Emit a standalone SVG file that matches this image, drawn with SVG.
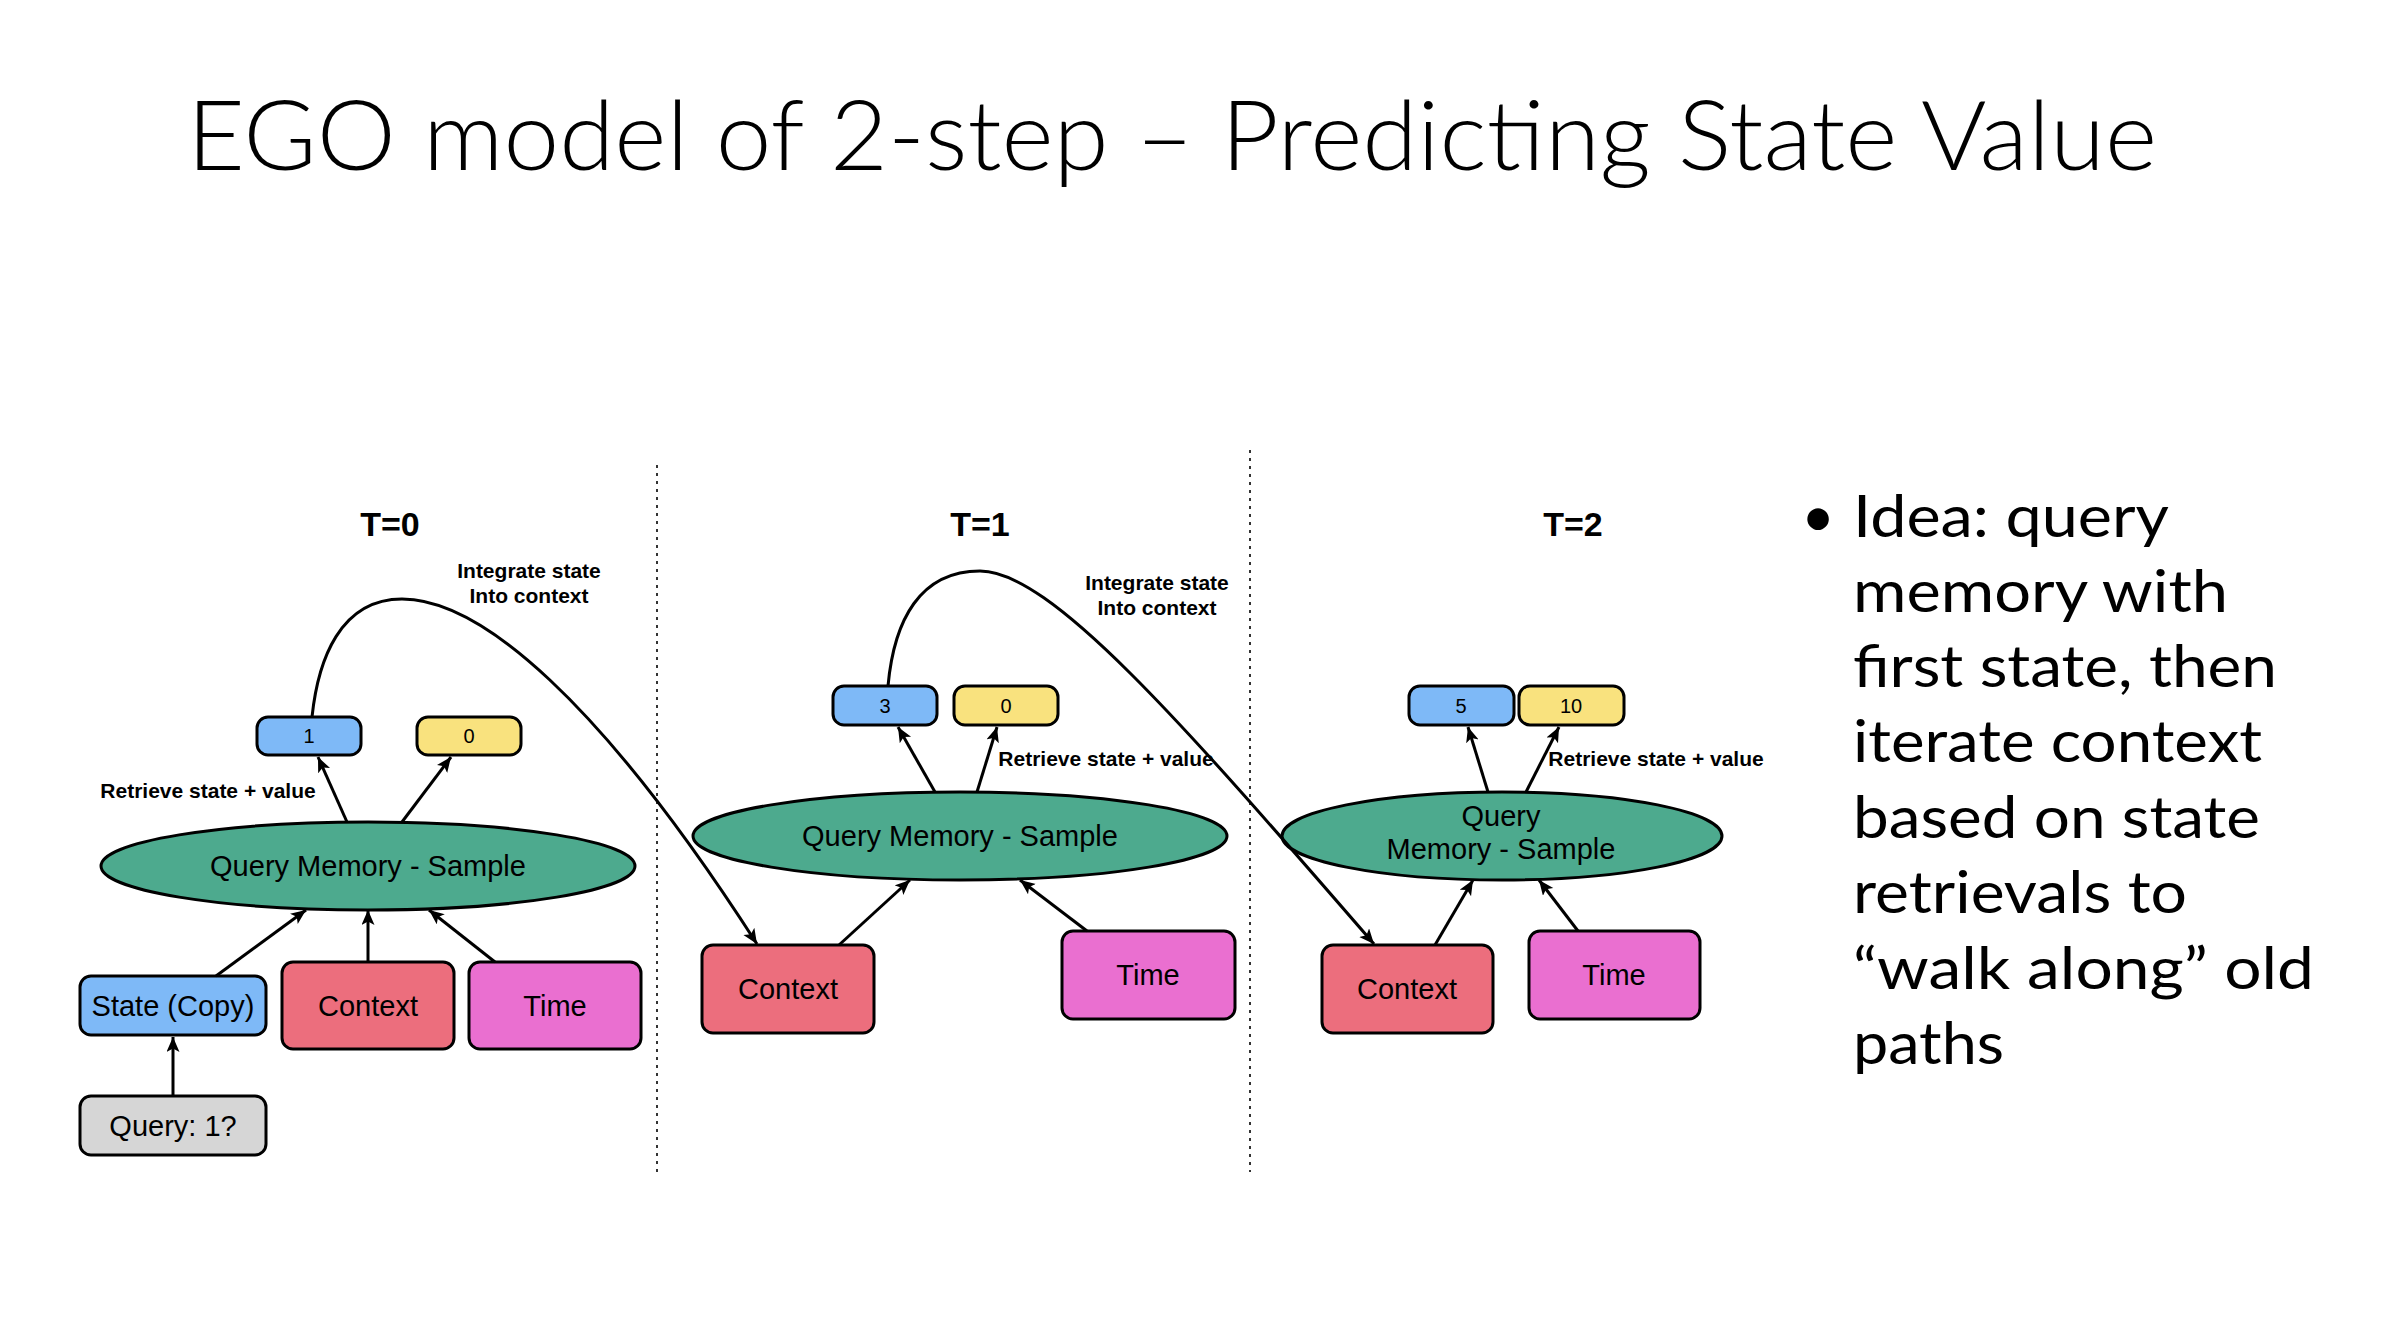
<svg xmlns="http://www.w3.org/2000/svg" width="2392" height="1341" viewBox="0 0 2392 1341">
<style>
.box{stroke:#000;stroke-width:3}
.blue{fill:#7EB9F7}.yellow{fill:#F9E27E}.green{fill:#4DAA8E}.red{fill:#EC6E7D}.pink{fill:#EA6FD0}.grey{fill:#D6D6D6}
.lbl{font-family:"Liberation Sans",Arial,sans-serif;font-size:29px;fill:#000;text-anchor:middle}
.num{font-family:"Liberation Sans",Arial,sans-serif;font-size:20px;fill:#000;text-anchor:middle}
.note{font-family:"Liberation Sans",Arial,sans-serif;font-size:21px;font-weight:bold;fill:#000;text-anchor:middle}
.step{font-family:"Liberation Sans",Arial,sans-serif;font-size:34px;font-weight:bold;fill:#000;text-anchor:middle}
.title{font-family:Lato,"Open Sans",sans-serif;font-weight:300;font-size:96px;fill:#000}
.bul{font-family:Lato,"Open Sans",sans-serif;font-size:58px;fill:#000}
.edge{fill:none;stroke:#000;stroke-width:3;marker-end:url(#arr)}
.div{stroke:#333;stroke-width:2;stroke-dasharray:3 5}
</style>
<defs>
<marker id="arr" markerUnits="userSpaceOnUse" markerWidth="18" markerHeight="14" refX="15" refY="6.5" orient="auto">
<path d="M0,0 L15,6.5 L0,13 L3.5,6.5 Z" fill="#000"/>
</marker>
</defs>
<rect width="2392" height="1341" fill="#fff"/>
<text class="title" x="187" y="170" textLength="1970" lengthAdjust="spacingAndGlyphs">EGO model of 2-step – Predicting State Value</text>

<line class="div" x1="657" y1="465" x2="657" y2="1176"/>
<line class="div" x1="1250" y1="450" x2="1250" y2="1172"/>

<text class="step" x="390" y="536">T=0</text>
<text class="step" x="980" y="536">T=1</text>
<text class="step" x="1573" y="536">T=2</text>

<g id="t0-state-out"><rect class="box blue" x="257" y="717" width="104" height="38" rx="11"/><text class="num" x="309" y="743">1</text></g>
<g id="t0-value-out"><rect class="box yellow" x="417" y="717" width="104" height="38" rx="11"/><text class="num" x="469" y="743">0</text></g>
<g id="t0-memory"><ellipse class="box green" cx="368" cy="866" rx="267" ry="44"/><text class="lbl" x="368" y="876">Query Memory - Sample</text></g>
<g id="t0-state"><rect class="box blue" x="80" y="976" width="186" height="59" rx="11"/><text class="lbl" x="173" y="1016">State (Copy)</text></g>
<g id="t0-context"><rect class="box red" x="282" y="962" width="172" height="87" rx="11"/><text class="lbl" x="368" y="1016">Context</text></g>
<g id="t0-time"><rect class="box pink" x="469" y="962" width="172" height="87" rx="11"/><text class="lbl" x="555" y="1016">Time</text></g>
<g id="t0-query"><rect class="box grey" x="80" y="1096" width="186" height="59" rx="11"/><text class="lbl" x="173" y="1136">Query: 1?</text></g>

<g id="t1-state-out"><rect class="box blue" x="833" y="686" width="104" height="39" rx="11"/><text class="num" x="885" y="713">3</text></g>
<g id="t1-value-out"><rect class="box yellow" x="954" y="686" width="104" height="39" rx="11"/><text class="num" x="1006" y="713">0</text></g>
<g id="t1-memory"><ellipse class="box green" cx="960" cy="836" rx="267" ry="44"/><text class="lbl" x="960" y="846">Query Memory - Sample</text></g>
<g id="t1-context"><rect class="box red" x="702" y="945" width="172" height="88" rx="11"/><text class="lbl" x="788" y="999">Context</text></g>
<g id="t1-time"><rect class="box pink" x="1062" y="931" width="173" height="88" rx="11"/><text class="lbl" x="1148" y="985">Time</text></g>

<g id="t2-state-out"><rect class="box blue" x="1409" y="686" width="105" height="39" rx="11"/><text class="num" x="1461" y="713">5</text></g>
<g id="t2-value-out"><rect class="box yellow" x="1519" y="686" width="105" height="39" rx="11"/><text class="num" x="1571" y="713">10</text></g>
<g id="t2-memory"><ellipse class="box green" cx="1502" cy="836" rx="220" ry="44"/><text class="lbl" x="1501" y="826">Query</text><text class="lbl" x="1501" y="859">Memory - Sample</text></g>
<g id="t2-context"><rect class="box red" x="1322" y="945" width="171" height="88" rx="11"/><text class="lbl" x="1407" y="999">Context</text></g>
<g id="t2-time"><rect class="box pink" x="1529" y="931" width="171" height="88" rx="11"/><text class="lbl" x="1614" y="985">Time</text></g>

<g id="connectors">
<line class="edge" x1="347" y1="822" x2="318" y2="757"/>
<line class="edge" x1="402" y1="822" x2="451" y2="757"/>
<line class="edge" x1="216" y1="976" x2="306" y2="910"/>
<line class="edge" x1="368" y1="962" x2="368" y2="910"/>
<line class="edge" x1="495" y1="962" x2="429" y2="910"/>
<line class="edge" x1="173" y1="1096" x2="173" y2="1037"/>
<path class="edge" d="M312,717 C318,660 340,599 402,599 C480,599 600,700 757,944"/>
<line class="edge" x1="935" y1="792" x2="898" y2="727"/>
<line class="edge" x1="977" y1="792" x2="997" y2="727"/>
<line class="edge" x1="839" y1="945" x2="910" y2="880"/>
<line class="edge" x1="1087" y1="931" x2="1020" y2="880"/>
<path class="edge" d="M888,686 C894,620 920,571 980,571 C1050,571 1180,720 1374,944"/>
<line class="edge" x1="1488" y1="792" x2="1468" y2="727"/>
<line class="edge" x1="1526" y1="792" x2="1559" y2="727"/>
<line class="edge" x1="1435" y1="945" x2="1473" y2="880"/>
<line class="edge" x1="1578" y1="931" x2="1539" y2="880"/>
</g>

<text class="note" x="529" y="578">Integrate state</text>
<text class="note" x="529" y="603">Into context</text>
<text class="note" x="1157" y="590">Integrate state</text>
<text class="note" x="1157" y="615">Into context</text>
<text class="note" x="208" y="798">Retrieve state + value</text>
<text class="note" x="1106" y="766">Retrieve state + value</text>
<text class="note" x="1656" y="766">Retrieve state + value</text>

<g id="bullet">
<text class="bul" x="1818" y="537" text-anchor="middle">•</text>
<text class="bul" x="1853" y="537" textLength="316" lengthAdjust="spacingAndGlyphs">Idea: query</text>
<text class="bul" x="1853" y="612" textLength="375" lengthAdjust="spacingAndGlyphs">memory with</text>
<text class="bul" x="1853" y="687" textLength="424" lengthAdjust="spacingAndGlyphs">first state, then</text>
<text class="bul" x="1853" y="762" textLength="409" lengthAdjust="spacingAndGlyphs">iterate context</text>
<text class="bul" x="1853" y="838" textLength="407" lengthAdjust="spacingAndGlyphs">based on state</text>
<text class="bul" x="1853" y="913" textLength="334" lengthAdjust="spacingAndGlyphs">retrievals to</text>
<text class="bul" x="1853" y="989" textLength="461" lengthAdjust="spacingAndGlyphs">“walk along” old</text>
<text class="bul" x="1853" y="1064" textLength="151" lengthAdjust="spacingAndGlyphs">paths</text>
</g>
</svg>
